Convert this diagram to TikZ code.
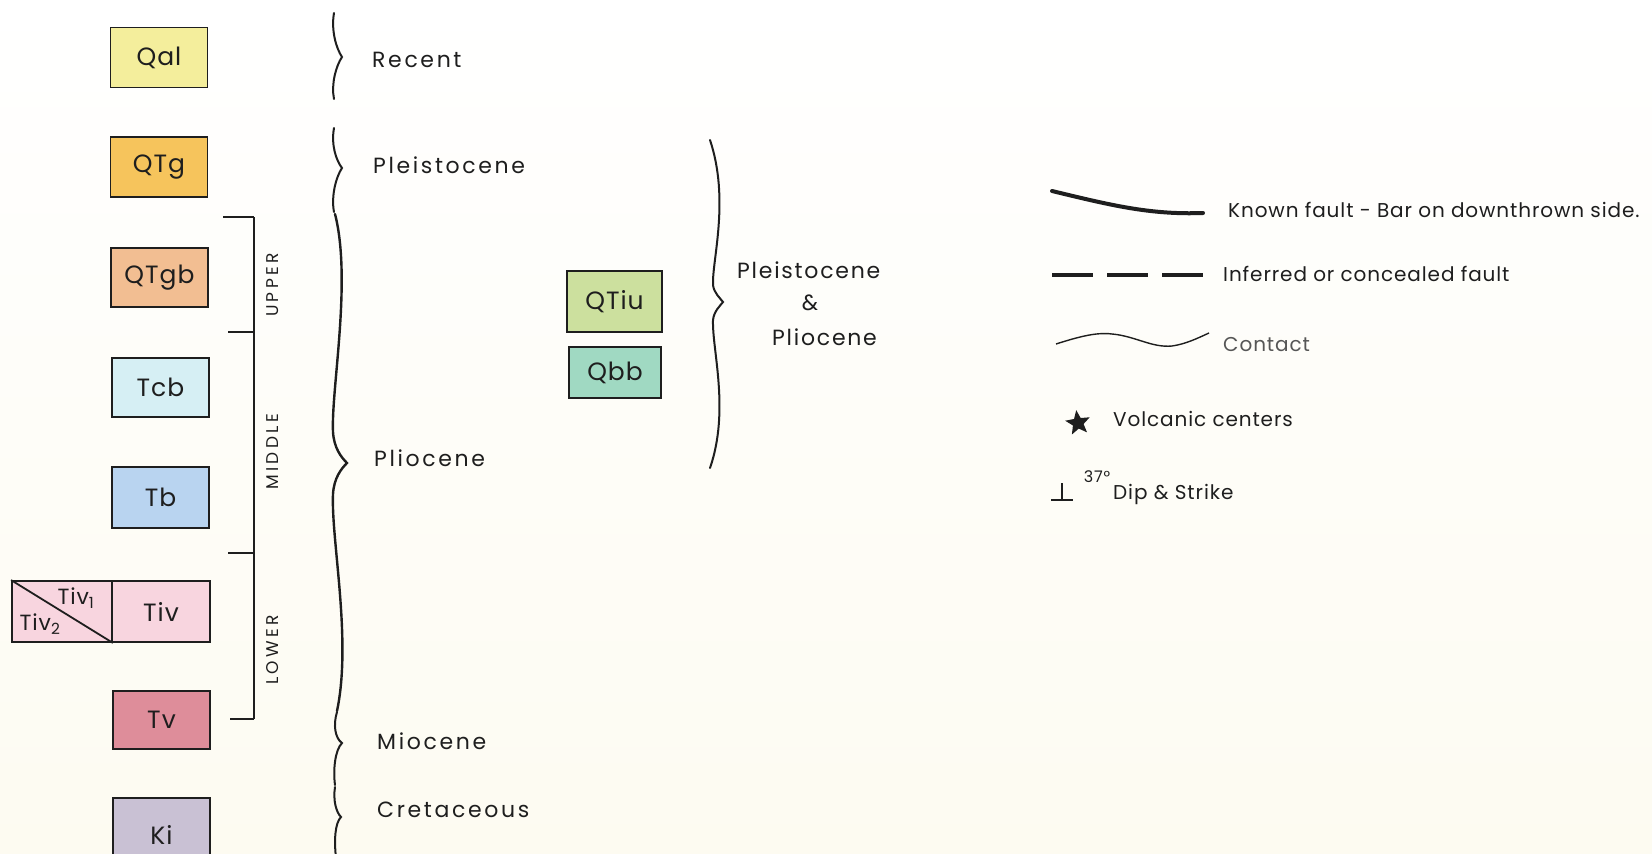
\documentclass[tikz,border=0pt]{standalone}
\usepackage{fontspec}
\setmainfont{Poppins}
\newfontfamily\boxfam{Poppins}[LetterSpace=4]
\newfontfamily\agefam{Poppins}[LetterSpace=12]
\newfontfamily\midfam{Poppins}[LetterSpace=8]
\newfontfamily\legfam{Poppins}[LetterSpace=4.5]
\newfontfamily\rotfam{Poppins}[LetterSpace=20]
\usetikzlibrary{shapes.geometric}
\definecolor{bgc}{RGB}{253,251,241}
\definecolor{ink}{RGB}{30,30,30}
\definecolor{cQal}{RGB}{244,238,156}
\definecolor{cQTg}{RGB}{246,196,92}
\definecolor{cQTgb}{RGB}{242,190,146}
\definecolor{cTcb}{RGB}{214,239,244}
\definecolor{cTb}{RGB}{185,212,240}
\definecolor{cTiv}{RGB}{248,213,223}
\definecolor{cTv}{RGB}{222,141,154}
\definecolor{cKi}{RGB}{201,193,212}
\definecolor{cQTiu}{RGB}{204,224,158}
\definecolor{cQbb}{RGB}{160,217,194}
\begin{document}
\begin{tikzpicture}[x=1pt,y=-1pt,
  unit/.style={draw=ink, line width=1.8pt, minimum width=97pt, minimum height=60pt,
    inner sep=0pt, text=ink, font=\boxfam\fontsize{25}{30}\selectfont},
  agelbl/.style={anchor=west, inner sep=0pt, text=ink, font=\agefam\fontsize{22}{26}\selectfont},
  midlbl/.style={anchor=west, inner sep=0pt, text=ink, font=\midfam\fontsize{22}{26}\selectfont},
  leglbl/.style={anchor=west, inner sep=0pt, text=ink, font=\legfam\fontsize{20}{24}\selectfont},
  rotlbl/.style={rotate=90, inner sep=0pt, text=ink, font=\rotfam\fontsize{17}{20}\selectfont},
  brace/.style={draw=ink, line width=2pt, line cap=round},
  bracket/.style={draw=ink, line width=1.8pt}]
\path[use as bounding box, top color=white, bottom color=bgc] (0,0) rectangle (1652,854);

% unit boxes
\node[unit, fill=cQal] (qal) at (159,57.5) {Qal};
\node[unit, fill=cQTg] (qtg) at (159,167) {QTg};
\node[unit, fill=cQTgb, minimum height=59pt] (qtgb) at (159.5,277.5) {QTgb};
\node[unit, fill=cTcb, minimum height=59pt] (tcb) at (160.5,387.5) {Tcb};
\node[unit, fill=cTb, minimum height=61pt] (tb) at (160.5,497.5) {Tb};
\node[unit, fill=cTiv, minimum width=98pt, minimum height=61pt] (tiv) at (161,611.5) {Tiv};
\node[unit, fill=cTiv, minimum width=100pt, minimum height=61pt] (tivs) at (62,611.5) {};
\draw[draw=ink, line width=1.8pt] (tivs.north west) -- (tivs.south east);
\node[inner sep=0pt, text=ink, font=\boxfam\fontsize{22}{26}\selectfont] (tiv1) at (76,598) {Tiv\textsubscript{1}};
\node[inner sep=0pt, text=ink, font=\boxfam\fontsize{22}{26}\selectfont] (tiv2) at (40,624) {Tiv\textsubscript{2}};
\node[unit, fill=cTv, minimum height=58pt] (tv) at (161.5,720) {Tv};
\node[unit, fill=cKi, minimum height=74pt] (ki) at (161.5,835) {Ki};
\node[unit, fill=cQTiu, minimum width=95pt, minimum height=61pt] (qtiu) at (614.5,301.5) {QTiu};
\node[unit, fill=cQbb, minimum width=92pt, minimum height=51pt] (qbb) at (615,372.5) {Qbb};

% bracket UPPER / MIDDLE / LOWER
\coordinate (bT) at (254,217);
\coordinate (bB) at (254,719);
\draw[bracket] (bT) -- (bB);
\draw[bracket] (223,217) -- (bT);
\draw[bracket] (228,332) -- (254,332);
\draw[bracket] (228,553) -- (254,553);
\draw[bracket] (230,719) -- (bB);
\node[rotlbl] (upper) at (273,285) {UPPER};
\node[rotlbl] (middle) at (273,452) {MIDDLE};
\node[rotlbl] (lower) at (273,650) {LOWER};

% braces
\draw[brace] (334,13) .. controls (331,30) and (336,48) .. (342,57) .. controls (336,66) and (331,84) .. (334,99);
\draw[brace] (334,128) .. controls (331,145) and (336,160) .. (342,168) .. controls (336,177) and (331,196) .. (334,212);
\draw[brace, line width=2.4pt] (335,214) .. controls (352,280) and (331,390) .. (333,432) .. controls (334,448) and (341,457) .. (347,463) .. controls (341,469) and (334,478) .. (333,494) .. controls (331,540) and (352,640) .. (337,711);
\draw[brace] (337,712) .. controls (333,725) and (335,738) .. (342,743) .. controls (335,750) and (333,770) .. (335,785);
\draw[brace] (335,787) .. controls (333,800) and (336,812) .. (341,817) .. controls (335,823) and (334,840) .. (336,858);
\draw[brace] (710,140) .. controls (730,200) and (712,260) .. (713,285) .. controls (714,293) and (720,298) .. (723,302) .. controls (720,306) and (714,311) .. (713,320) .. controls (712,350) and (730,410) .. (710,468);

% age labels
\node[agelbl] (recent) at (372,60) {Recent};
\node[agelbl] (pleist) at (373,165) {Pleistocene};
\node[agelbl] (plio) at (374,458) {Pliocene};
\node[agelbl] (mio) at (377,741) {Miocene};
\node[agelbl] (cret) at (377,810) {Cretaceous};
\node[midlbl] (pp1) at (737,270) {Pleistocene};
\node[midlbl, anchor=center] (pp2) at (810,303) {\&};
\node[midlbl] (pp3) at (772,337) {Pliocene};

% legend symbols
\coordinate (kf1) at (1052,191);
\coordinate (kf2) at (1203,213);
\draw[draw=ink, line width=4pt, line cap=round] (kf1) .. controls (1110,205) and (1150,215) .. (kf2);
\coordinate (if1) at (1052,275);
\coordinate (if2) at (1203,275);
\draw[draw=ink, line width=4pt, dash pattern=on 41pt off 14pt] (if1) -- (if2);
\coordinate (ct1) at (1056,344);
\coordinate (ct2) at (1209,333);
\draw[draw=ink, line width=1.4pt] (ct1) .. controls (1078,337) and (1096,332) .. (1112,334) .. controls (1135,336) and (1152,348) .. (1172,346) .. controls (1186,344) and (1198,338) .. (ct2);
\node[star, star points=5, star point ratio=2.3, fill=ink, minimum size=26pt, inner sep=0pt, rotate=8] (volc) at (1078,423) {};
\coordinate (ds1) at (1051,500);
\coordinate (ds2) at (1073,500);
\coordinate (ds3) at (1062,483);
\draw[draw=ink, line width=1.4pt] (ds1) -- (ds2);
\draw[draw=ink, line width=1.4pt] (ds3) -- (1062,500);
\node[inner sep=0pt, text=ink, font=\legfam\fontsize{16}{19}\selectfont] (deg) at (1097,477) {37°};

% legend labels
\node[leglbl] (kft) at (1228,210) {Known fault - Bar on downthrown side.};
\node[leglbl] (ift) at (1223,274) {Inferred or concealed fault};
\node[leglbl, text=ink!75] (ctt) at (1223,345) {Contact};
\node[leglbl] (vct) at (1113,419) {Volcanic centers};
\node[leglbl] (dst) at (1113,494) {Dip \& Strike};
\end{tikzpicture}
\end{document}
